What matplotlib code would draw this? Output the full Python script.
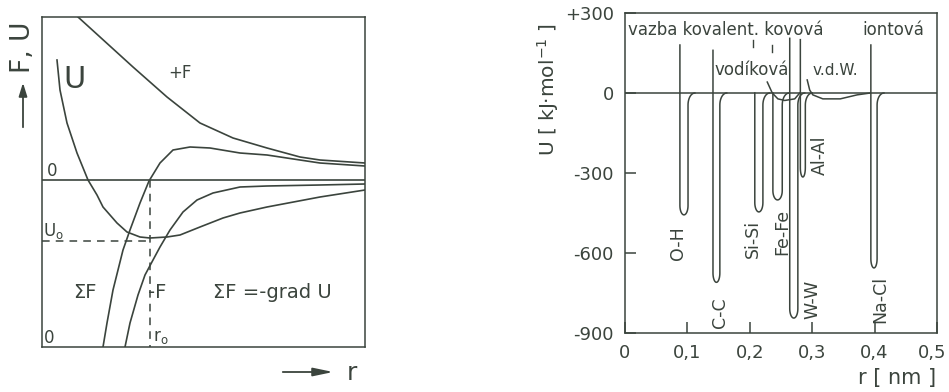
import numpy as np
import matplotlib
matplotlib.use("Agg")
import matplotlib.pyplot as plt
from matplotlib.transforms import ScaledTranslation

INK = "#3b443d"

# ---- left panel: schematic curves (arbitrary units) ----
fplus_x = [36, 58, 91, 125, 158, 191, 225, 258, 278, 323]
fplus_y = [163, 143, 113, 83, 57, 42, 32, 23, 20, 17]

u_x = [15, 18, 25, 35, 46, 55, 61, 75, 85, 98, 108, 125, 138, 158, 181, 198, 225, 278, 323]
u_y = [120, 90, 57, 27, 0, -15, -27, -43, -52, -57, -58, -57, -55, -47, -38, -33, -27, -17, -10]

fsum_x = [61, 65, 71, 81, 88, 98, 107, 118, 131, 148, 168, 198, 225, 258, 278, 323]
fsum_y = [-167, -143, -110, -70, -50, -23, -1, 17, 30, 33, 32, 27, 25, 20, 17, 14]

fminus_x = [83, 88, 96, 103, 111, 118, 128, 141, 155, 171, 198, 225, 278, 323]
fminus_y = [-167, -143, -115, -95, -80, -67, -50, -32, -20, -13, -7, -6, -5, -4]

r0 = 108
U0 = -61

# ---- right panel: bond potential wells ----
bonds = ["O-H", "C-C", "Si-Si", "Fe-Fe", "W-W", "Al-Al", "Na-Cl"]
r_left = [0.088, 0.141, 0.208, 0.237, 0.264, 0.281, 0.394]
r_right = [0.101, 0.152, 0.221, 0.252, 0.277, 0.289, 0.404]
u_min = [-457, -710, -446, -401, -844, -315, -656]
u_top = [180, 160, 0, 0, 205, 200, 180]

hbond_r = [0.228, 0.236, 0.245, 0.256, 0.272, 0.280]
hbond_u = [41, 0, -22, -28, -22, 0]
vdw_r = [0.292, 0.296, 0.301, 0.317, 0.345, 0.372, 0.393]
vdw_u = [49, 11, -7, -22, -22, -7, 0]

xticks = [0, 0.1, 0.2, 0.3, 0.4, 0.5]
xticklabels = ["0", "0,1", "0,2", "0,3", "0,4", "0,5"]
yticks = [300, 0, -300, -600, -900]
yticklabels = ["+300", "0", "-300", "-600", "-900"]


def well(rl, rr, umin, utop):
    rc, a, b = 0.5 * (rl + rr), 0.5 * (rr - rl), 35
    t = np.linspace(np.pi, 2 * np.pi, 20)
    xs = [rl, rl] + list(rc + a * np.cos(t)) + [rr]
    ys = [utop, umin + b] + list(umin + b + b * np.sin(t)) + [-45]
    t2 = np.linspace(np.pi, np.pi / 2, 12)
    xs += list(rr + 0.011 + 0.011 * np.cos(t2))
    ys += list(-45 + 45 * np.sin(t2))
    return xs, ys


fig = plt.figure(figsize=(9.49, 3.92), dpi=100)

# ---------------- left panel ----------------
axl = fig.add_axes([42 / 949, 45 / 392, 323 / 949, 330 / 392])
axl.set_xlim(0, 323)
axl.set_ylim(-167, 163)
axl.set_xticks([])
axl.set_yticks([])
for s in axl.spines.values():
    s.set_color(INK)
    s.set_linewidth(1.1)

kw = dict(color=INK, lw=1.2)
axl.axhline(0, **kw)
axl.plot(fplus_x, fplus_y, **kw)
axl.plot(u_x, u_y, **kw)
axl.plot(fsum_x, fsum_y, **kw)
axl.plot(fminus_x, fminus_y, **kw)
axl.plot([0, r0], [U0, U0], color=INK, lw=1.1, ls=(0, (5, 4)))
axl.plot([r0, r0], [0, -167], color=INK, lw=1.1, ls=(0, (5, 4)))

axl.text(33, 101, "U", fontsize=22, color=INK, ha="center", va="center")
axl.text(138, 107, "+F", fontsize=12, color=INK, ha="center", va="center")
axl.text(10, 9, "0", fontsize=12, color=INK, ha="center", va="center")
axl.text(11, -51, "U$_\\mathregular{o}$", fontsize=12, color=INK, ha="center", va="center")
axl.text(43, -112, "ΣF", fontsize=14, color=INK, ha="center", va="center")
axl.text(115, -113, "-F", fontsize=14, color=INK, ha="center", va="center")
axl.text(171, -113, "ΣF =-grad U", fontsize=14, color=INK, ha="left", va="center")
axl.text(7, -158, "0", fontsize=12, color=INK, ha="center", va="center")
axl.text(111, -157, "r$_\\mathregular{o}$", fontsize=12, color=INK, ha="left", va="center")

fig.text(23 / 949, 1 - 47 / 392, "F, U", rotation=90, fontsize=19, color=INK,
         ha="center", va="center")
fig.add_artist(matplotlib.patches.FancyArrowPatch(
    (23 / 949, 1 - 130 / 392), (23 / 949, 1 - 80 / 392), transform=fig.transFigure,
    arrowstyle="-|>,head_length=8,head_width=2.5", color=INK, lw=1.3))
fig.add_artist(matplotlib.patches.FancyArrowPatch(
    (280 / 949, 1 - 372 / 392), (336 / 949, 1 - 372 / 392), transform=fig.transFigure,
    arrowstyle="-|>,head_length=12,head_width=2.5", color=INK, lw=1.3))
fig.text(352 / 949, 1 - 373 / 392, "r", fontsize=18, color=INK, ha="center", va="center")

# ---------------- right panel ----------------
axr = fig.add_axes([625 / 949, 59 / 392, 312 / 949, 320 / 392])
axr.set_xlim(0, 0.5)
axr.set_ylim(-900, 300)
for s in axr.spines.values():
    s.set_color(INK)
    s.set_linewidth(1.1)
axr.set_xticks(xticks)
axr.set_xticklabels(xticklabels)
axr.set_yticks(yticks)
axr.set_yticklabels(yticklabels)
axr.tick_params(direction="in", length=8, width=1.1, color=INK, labelcolor=INK,
                labelsize=13, pad=8)
# keep the last tick label inside the image
last = axr.get_xticklabels()[-1]
last.set_transform(last.get_transform() + ScaledTranslation(-5 / 100, 0, fig.dpi_scale_trans))

axr.axhline(0, color=INK, lw=1.1)
for rl, rr, um, ut in zip(r_left, r_right, u_min, u_top):
    xs, ys = well(rl, rr, um, ut)
    axr.plot(xs, ys, color=INK, lw=1.1)
axr.plot(hbond_r, hbond_u, color=INK, lw=1.1)
axr.plot(vdw_r, vdw_u, color=INK, lw=1.1)
axr.plot([0.205, 0.205], [172, 199], color=INK, lw=1.0)
axr.plot([0.235, 0.235], [154, 180], color=INK, lw=1.0)

label_pos = [(0.085, -562), (0.152, -825), (0.205, -547), (0.252, -521),
             (0.301, -776), (0.312, -232), (0.409, -776)]
for name, (x, y) in zip(bonds, label_pos):
    axr.text(x, y, name, rotation=90, fontsize=12.5, color=INK,
             ha="center", va="center")

axr.text(0.005, 236, "vazba kovalent. kovová", fontsize=12, color=INK, va="center")
axr.text(0.381, 236, "iontová", fontsize=12, color=INK, va="center")
axr.text(0.144, 86, "vodíková", fontsize=12, color=INK, va="center")
axr.text(0.301, 86, "v.d.W.", fontsize=11, color=INK, va="center")

fig.text(548 / 949, 1 - 90 / 392, "U [ kJ·mol$^{-1}$ ]", rotation=90, fontsize=14.5,
         color=INK, ha="center", va="center")
fig.text(897 / 949, 1 - 378 / 392, "r [ nm ]", fontsize=15, color=INK,
         ha="center", va="center")

fig.savefig("out.png", dpi=100)
